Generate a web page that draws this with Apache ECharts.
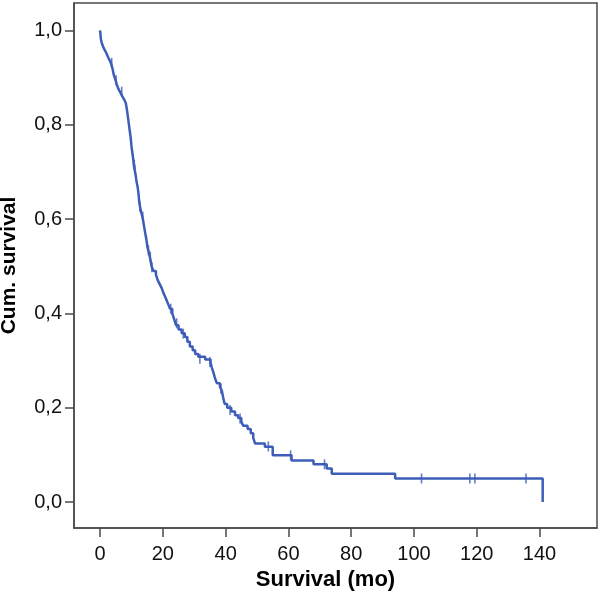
<!DOCTYPE html>
<html>
<head>
<meta charset="utf-8">
<script src="https://cdn.jsdelivr.net/npm/echarts@6/dist/echarts.min.js"></script>
<style>html,body{margin:0;padding:0;background:#fff}#c{width:600px;height:591px}</style>
</head>
<body>
<div id="c"></div>
<script>
// Kaplan-Meier step points: time (months) and cumulative survival after each event
const eventTimes = [0,0.3,0.6,1.0,1.5,2.0,2.5,3.0,3.5,4.0,4.4,4.9,5.4,5.9,6.5,7.1,7.7,8.2,
  8.6,8.9,9.2,9.5,9.8,10.0,10.3,10.6,10.8,11.3,11.6,12.0,12.3,12.5,12.9,13.3,13.7,14.0,14.4,14.8,15.1,15.6,16.1,16.4,
  17.0,17.8,18.4,19.0,19.6,20.1,20.7,21.2,21.8,22.3,23.0,23.6,24.2,25.0,26.0,27.0,27.8,28.6,29.5,30.3,31.3,33.5,
  35.2,35.6,36.1,36.6,37.2,38.2,38.8,39.2,39.7,40.5,41.8,43.0,44.0,45.0,45.6,47.0,48.0,48.8,49.4,52.5,55.0,
  61.0,68.0,72.2,73.8,94.0,141.0];
const survival = [1.0,0.98,0.972,0.965,0.958,0.952,0.944,0.937,0.93,0.918,0.905,0.895,0.884,0.875,0.868,0.86,0.853,0.846,
  0.83,0.815,0.80,0.785,0.77,0.755,0.74,0.725,0.712,0.695,0.68,0.667,0.65,0.635,0.62,0.61,0.598,0.585,0.57,0.555,0.54,0.528,0.512,0.50,
  0.49,0.482,0.47,0.462,0.454,0.445,0.436,0.428,0.418,0.41,0.40,0.388,0.375,0.366,0.358,0.35,0.34,0.33,0.322,0.314,0.308,0.302,
  0.295,0.285,0.275,0.263,0.252,0.244,0.236,0.222,0.208,0.20,0.192,0.184,0.178,0.17,0.162,0.155,0.146,0.136,0.124,0.117,0.099,
  0.088,0.080,0.071,0.060,0.050,0.0];
// Censored observations: time and survival level at that time
const censorTimes = [3.7,5.1,6.9,10.9,11.1,12.7,13.6,15.4,16.0,16.5,22.5,24.4,26.5,31.8,35.0,38.5,41.4,44.6,53.6,60.7,71.5,102.4,117.8,119.4,135.7];
const censorSurv  = [0.931,0.894,0.870,0.715,0.705,0.626,0.605,0.534,0.52,0.498,0.41,0.379,0.357,0.304,0.297,0.24,0.195,0.177,0.118,0.099,0.080,0.050,0.050,0.050,0.050];
const xTicks = [0,20,40,60,80,100,120,140];
const yTicks = [0,0.2,0.4,0.6,0.8,1.0];

const lineColor = '#3d5db8';
const axisColor = '#4a4a4a';
const chart = echarts.init(document.getElementById('c'), null, {renderer:'canvas'});
chart.setOption({
  animation:false,
  grid:{left:74,top:3,right:3,bottom:63,containLabel:false,outerBoundsMode:'none',
    show:true,borderColor:axisColor,borderWidth:1.5,backgroundColor:'#fff'},
  xAxis:{type:'value',min:-8.3,max:158.3,
    name:'Survival (mo)',nameLocation:'middle',nameGap:36,
    nameTextStyle:{fontFamily:'Liberation Sans',fontWeight:'bold',fontSize:22,color:'#000',padding:[0,20,0,0]},
    axisLine:{show:true,onZero:false,lineStyle:{color:axisColor,width:1.5}},
    axisTick:{show:true,length:9,lineStyle:{color:axisColor,width:1.5},customValues:xTicks},
    axisLabel:{customValues:xTicks,margin:16,fontFamily:'Liberation Sans',fontSize:20,color:'#111'},
    splitLine:{show:false}},
  yAxis:{type:'value',min:-0.055,max:1.058,
    name:'Cum. survival',nameLocation:'middle',nameGap:54,nameRotate:90,
    nameTextStyle:{fontFamily:'Liberation Sans',fontWeight:'bold',fontSize:21,color:'#000'},
    axisLine:{show:true,onZero:false,lineStyle:{color:axisColor,width:1.5}},
    axisTick:{show:true,length:9,lineStyle:{color:axisColor,width:1.5},customValues:yTicks},
    axisLabel:{customValues:yTicks,margin:12,fontFamily:'Liberation Sans',fontSize:20,color:'#111',
      formatter:v=>v.toFixed(1).replace('.',',')},
    splitLine:{show:false}},
  series:[
    {type:'line',step:'end',showSymbol:false,symbol:'none',
      data:eventTimes.map((t,i)=>[t,survival[i]]),
      lineStyle:{color:lineColor,width:2.5},z:3},
    {type:'scatter',symbol:'rect',symbolSize:[1.6,10],
      data:censorTimes.map((t,i)=>[t,censorSurv[i]]),
      itemStyle:{color:lineColor},z:4}
  ]
});
</script>
</body>
</html>
